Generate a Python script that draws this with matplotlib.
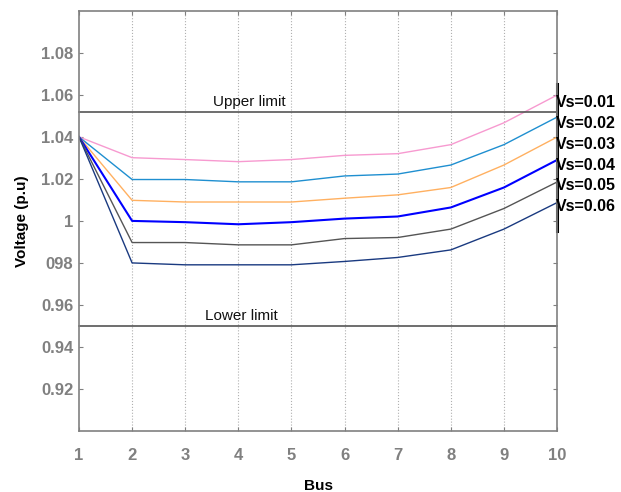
import numpy as np
import matplotlib
matplotlib.use("Agg")
import matplotlib.pyplot as plt
from matplotlib.lines import Line2D

plt.rcParams['font.family'] = ['Liberation Sans', 'DejaVu Sans']

# datos
buses = [1, 2, 3, 4, 5, 6, 7, 8, 9, 10]
v_001 = [1.040, 1.0301, 1.0292, 1.0282, 1.0292, 1.0312, 1.0320, 1.0363, 1.0467, 1.0599]
v_002 = [1.040, 1.0197, 1.0197, 1.0186, 1.0186, 1.0214, 1.0223, 1.0266, 1.0363, 1.0494]
v_003 = [1.040, 1.0098, 1.0090, 1.0090, 1.0090, 1.0108, 1.0124, 1.0159, 1.0266, 1.0399]
v_004 = [1.040, 1.0000, 0.9994, 0.9984, 0.9994, 1.0011, 1.0021, 1.0064, 1.0159, 1.0290]
v_005 = [1.040, 0.9897, 0.9897, 0.9886, 0.9886, 0.9916, 0.9921, 0.9961, 1.0059, 1.0185]
v_006 = [1.040, 0.9800, 0.9791, 0.9791, 0.9791, 0.9807, 0.9826, 0.9862, 0.9961, 1.0087]
etiquetas = ['Vs=0.01', 'Vs=0.02', 'Vs=0.03', 'Vs=0.04', 'Vs=0.05', 'Vs=0.06']
y_ticks = [0.92, 0.94, 0.96, 0.98, 1.00, 1.02, 1.04, 1.06, 1.08]
y_tick_labels = ['0.92', '0.94', '0.96', '098', '1', '1.02', '1.04', '1.06', '1.08']
limite_sup = 1.052
limite_inf = 0.95

series = [v_001, v_002, v_003, v_004, v_005, v_006]
colores = ['#f79ad0', '#1f8fd0', '#ffb060', '#0000ff', '#555555', '#1a3a80']
anchos = [1.0, 1.0, 1.0, 1.5, 1.0, 1.0]

fig = plt.figure(figsize=(6.21, 4.92), dpi=100)
ax = fig.add_axes([0.1272, 0.124, 0.7698, 0.854])

for x in buses[1:-1]:
    ax.axvline(x, color='#b0b0b0', lw=0.8, ls=':', zorder=0)

handles = []
for vals, c, lw, lab in zip(series, colores, anchos, etiquetas):
    ax.plot(buses, vals, color=c, lw=lw)
    handles.append(Line2D([], [], color='none', label=lab))

ax.axhline(limite_sup, color='#555555', lw=1.2, clip_on=False)
ax.axhline(limite_inf, color='#555555', lw=1.2, clip_on=False)
ax.text(4.2, limite_sup + 0.0015, 'Upper limit', ha='center', va='bottom', fontsize=11, color='#111111')
ax.text(4.05, limite_inf + 0.0015, 'Lower limit', ha='center', va='bottom', fontsize=11, color='#111111')

ax.set_xlim(1, 10)
ax.set_ylim(0.9, 1.1)
ax.set_xticks(buses)
ax.set_yticks(y_ticks)
ax.set_yticklabels(y_tick_labels)
ax.tick_params(direction='in', top=True, right=True, length=3, color='#808080',
               labelcolor='#808080', labelsize=12)
ax.tick_params(axis='x', pad=12)
ax.tick_params(axis='y', pad=4)
for lbl in ax.get_xticklabels() + ax.get_yticklabels():
    lbl.set_fontweight('bold')
for s in ax.spines.values():
    s.set_color('#808080')
    s.set_linewidth(1.2)

ax.set_xlabel('Bus', fontsize=11, fontweight='bold', labelpad=12)
ax.set_ylabel('Voltage (p.u)', fontsize=11, fontweight='bold', labelpad=9)

leg = ax.legend(handles=handles, loc='upper left', bbox_to_anchor=(0.998, 0.80),
                frameon=False, handlelength=0, handletextpad=0, borderpad=0,
                borderaxespad=0, labelspacing=0.37,
                prop={'weight': 'bold', 'size': 11.5})
# barra negra del recuadro de leyenda
ax.add_line(Line2D([1.0, 1.0], [0.475, 0.825], transform=ax.transAxes, color='black',
                   lw=2.2, clip_on=False))

fig.savefig('out.png', dpi=100)
